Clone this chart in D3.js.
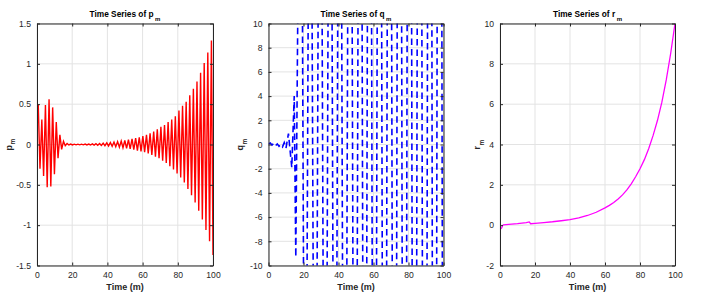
<!DOCTYPE html>
<html><head><meta charset="utf-8">
<script src="https://cdn.jsdelivr.net/npm/d3@7"></script>
<style>
html,body{margin:0;padding:0;background:#fff;}
text{font-family:"Liberation Sans",Arial,Helvetica,sans-serif;}
</style></head>
<body><svg id="c" width="702" height="298"></svg>
<script>
// ---------- data ----------
const xTicks = [0, 20, 40, 60, 80, 100];
const pTicks = [-1.5, -1, -0.5, 0, 0.5, 1, 1.5];
const qTicks = [-10, -8, -6, -4, -2, 0, 2, 4, 6, 8, 10];
const rTicks = [-2, 0, 2, 4, 6, 8, 10];

const pTime = [0.7,1.7,2.75,3.75,4.8,5.8,6.85,7.85,8.9,9.9,10.95,11.95,13.0,14.0,15.05,16.05,17.1,18.1,19.15,20.15,
  21.2,22.2,23.25,24.25,25.3,26.3,27.35,28.35,29.4,30.4,31.45,32.45,33.5,34.5,35.55,36.55,37.6,38.6,39.65,40.65,
  41.7,42.7,43.75,44.75,45.8,46.8,47.85,48.85,49.9,50.9,51.95,52.95,54.0,55.0,56.05,57.05,58.1,59.1,60.15,61.15,
  62.2,63.2,64.25,65.25,66.3,67.3,68.35,69.35,70.4,71.4,72.45,73.45,74.5,75.5,76.55,77.55,78.6,79.6,80.65,81.65,
  82.7,83.7,84.75,85.75,86.8,87.8,88.85,89.85,90.9,91.9,92.95,93.95,95.0,96.0,97.05,98.05,99.1,100.0];
const pValue = [0.50,-0.30,0.31,-0.39,0.49,-0.53,0.56,-0.52,0.46,-0.37,0.28,-0.17,0.12,-0.06,0.04,-0.015,0.012,-0.006,0.006,-0.005,
  0.004,-0.004,0.004,-0.004,0.004,-0.004,0.005,-0.005,0.006,-0.006,0.008,-0.007,0.010,-0.009,0.013,-0.012,0.016,-0.015,0.020,-0.018,
  0.025,-0.022,0.030,-0.027,0.036,-0.033,0.043,-0.040,0.050,-0.047,0.060,-0.055,0.070,-0.065,0.080,-0.075,0.090,-0.085,0.105,-0.095,
  0.12,-0.11,0.14,-0.13,0.16,-0.15,0.19,-0.17,0.22,-0.20,0.24,-0.23,0.28,-0.27,0.31,-0.31,0.35,-0.36,0.42,-0.41,
  0.48,-0.47,0.53,-0.55,0.61,-0.63,0.69,-0.72,0.78,-0.82,0.89,-0.93,1.01,-1.06,1.14,-1.20,1.29,-1.37];

const qTime = [0,1,2,3,4,5,6,7,8,9,10,11.4,13.3,14.7,15.6,18.5,21.0,23.8,26.7,29.5,32.4,35.2,38.0,40.7,43.5,46.6,49.5,52.4,
  55.0,57.7,60.5,63.4,66.3,69.1,72.0,74.8,77.7,80.5,83.4,86.3,89.3,92.2,94.8,97.7,100];
const qValue = [0.05,0.12,-0.05,0.1,-0.1,0.05,-0.15,0.0,-0.2,0.15,-0.3,0.9,-1.9,4.0,-9.3,42,-45,48,-50,53,-55,58,-60,62,-65,68,-70,72,
  -75,78,-80,83,-85,88,-90,93,-95,98,-100,103,-105,108,-110,113,-60];

const rTime = [0.5,1.0,1.5,2,5,10,15,16.7,17.5,20,25,30,35,40,45,50,55,60,62.5,65,67.5,70,72.5,75,77.5,80,82.5,85,87.5,90,92.5,95,97.5,100];
const rValue = [-0.19,-0.12,-0.02,0.02,0.04,0.08,0.13,0.16,0.07,0.09,0.13,0.17,0.22,0.27,0.36,0.48,0.64,0.86,0.98,1.12,1.3,1.5,1.75,2.05,2.4,2.8,3.25,3.8,4.45,5.2,6.1,7.2,8.5,10.0];

// ---------- drawing ----------
const svg = d3.select("#c");
const panels = [
  {x0:37, x1:213, y0:23.5, y1:265.5, dom:[-1.5,1.5], ticks:pTicks, t:pTime, v:pValue, color:"#ff0000", sym:"p", dash:null, labX:11.5, w:1.4},
  {x0:268.5, x1:443.5, y0:23.5, y1:265.5, dom:[-10,10], ticks:qTicks, t:qTime, v:qValue, color:"#0000ff", sym:"q", dash:"6.5,4", labX:243, w:1.6},
  {x0:500, x1:675, y0:23.5, y1:265.5, dom:[-2,10], ticks:rTicks, t:rTime, v:rValue, color:"#ff00ff", sym:"r", dash:null, labX:480, w:1.3}
];

panels.forEach((P, i) => {
  const x = d3.scaleLinear().domain([0,100]).range([P.x0, P.x1]);
  const y = d3.scaleLinear().domain(P.dom).range([P.y1, P.y0]);
  const g = svg.append("g");
  // grid
  g.selectAll(".gx").data(xTicks).enter().append("line")
    .attr("x1", d=>x(d)).attr("x2", d=>x(d)).attr("y1", P.y0).attr("y2", P.y1)
    .attr("stroke", "#e3e3e3").attr("stroke-width", 1);
  g.selectAll(".gy").data(P.ticks).enter().append("line")
    .attr("x1", P.x0).attr("x2", P.x1).attr("y1", d=>y(d)).attr("y2", d=>y(d))
    .attr("stroke", "#e3e3e3").attr("stroke-width", 1);
  // clip
  const cid = "clip" + i;
  svg.append("clipPath").attr("id", cid).append("rect")
    .attr("x", P.x0).attr("y", P.y0).attr("width", P.x1 - P.x0).attr("height", P.y1 - P.y0);
  const data = P.t.map((t, j) => [t, P.v[j]]);
  const line = d3.line().x(d=>x(d[0])).y(d=>y(d[1]));
  const path = g.append("path").datum(data).attr("d", line)
    .attr("clip-path", `url(#${cid})`)
    .attr("fill", "none").attr("stroke", P.color).attr("stroke-width", P.w)
    .attr("stroke-linejoin", "miter");
  if (P.dash) path.attr("stroke-dasharray", P.dash);

  // axes (box with inward ticks)
  const axB = d3.axisBottom(x).tickValues(xTicks).tickSizeInner(-3).tickSizeOuter(0).tickPadding(6);
  const axT = d3.axisTop(x).tickValues(xTicks).tickSizeInner(-3).tickSizeOuter(0).tickFormat("");
  const axL = d3.axisLeft(y).tickValues(P.ticks).tickSizeInner(-3).tickSizeOuter(0).tickPadding(6).tickFormat(d=>String(d));
  const axR = d3.axisRight(y).tickValues(P.ticks).tickSizeInner(-3).tickSizeOuter(0).tickFormat("");
  const style = sel => {
    sel.select(".domain").attr("stroke", "#262626").attr("stroke-width", 1);
    sel.selectAll(".tick line").attr("stroke", "#262626");
    sel.selectAll(".tick text").attr("fill", "#262626").attr("font-size", "8.6px")
      .attr("font-family", "'Liberation Sans',Arial,sans-serif");
  };
  g.append("g").attr("transform", `translate(0,${P.y1})`).call(axB).call(style);
  g.append("g").attr("transform", `translate(0,${P.y0})`).call(axT).call(style);
  g.append("g").attr("transform", `translate(${P.x0},0)`).call(axL).call(style);
  g.append("g").attr("transform", `translate(${P.x1},0)`).call(axR).call(style);

  // title
  const cx = (P.x0 + P.x1) / 2;
  const tt = g.append("text").attr("x", cx).attr("y", 16.5).attr("text-anchor", "middle")
    .attr("font-weight", "bold").attr("font-size", "8.3px").attr("fill", "#000");
  tt.append("tspan").text("Time Series of " + P.sym);
  tt.append("tspan").attr("dx", 1.5).attr("dy", 4).attr("font-size", "6px").text("m");

  // x label
  g.append("text").attr("x", cx).attr("y", 290).attr("text-anchor", "middle")
    .attr("font-weight", "bold").attr("font-size", "9px").attr("fill", "#262626").text("Time (m)");

  // y label
  const yl = g.append("text").attr("transform", `translate(${P.labX},${(P.y0+P.y1)/2}) rotate(-90)`)
    .attr("text-anchor", "middle").attr("font-weight", "bold").attr("font-size", "9px").attr("fill", "#262626");
  yl.append("tspan").text(P.sym);
  yl.append("tspan").attr("dx", 0.5).attr("dy", 3.5).attr("font-size", "6.5px").text("m");
});
</script></body></html>
